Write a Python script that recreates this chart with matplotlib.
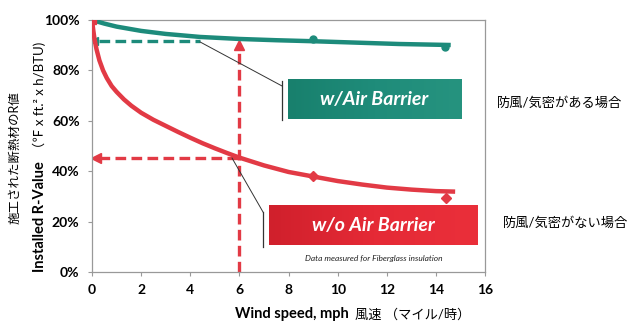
import numpy as np
import matplotlib.pyplot as plt
from matplotlib.ticker import FuncFormatter
from matplotlib.colors import LinearSegmentedColormap

plt.rcParams['font.family'] = ['Lato', 'Noto Sans CJK JP', 'DejaVu Sans']

# curve values (wind speed mph, R-value %)
wind_with = [0, 0.5, 1, 2, 3, 4.4, 6, 7.5, 9, 10.9, 12.5, 14.6]
r_with = [100, 98.6, 97.4, 95.7, 94.5, 93.3, 92.5, 92.0, 91.6, 91.0, 90.5, 90.1]
wind_without = [0, 0.05, 0.1, 0.18, 0.3, 0.45, 0.6, 0.8, 1.0, 1.3, 1.6, 2.0, 2.5, 3.0,
                3.5, 4.0, 4.5, 5.0, 5.5, 6.0, 7, 8, 9, 10, 11, 12, 13, 14, 14.78]
r_without = [100, 96, 92.5, 88.5, 84, 80, 77, 73.8, 71.5, 68.5, 66, 63.2, 60.4, 58,
             55.6, 53.3, 51.1, 49.1, 47.2, 45.4, 42.3, 39.7, 37.9, 36.1, 34.7, 33.5, 32.7, 32.1, 31.9]

# measured points
pts_with_x = [9, 14.35]
pts_with_y = [92.6, 89.2]
pts_without_x = [0, 9, 14.4]
pts_without_y = [100, 38.0, 29.4]

teal = '#1d8b7b'
red = '#e23a45'

fig = plt.figure(figsize=(6.4, 3.29), dpi=100)
ax = fig.add_axes([0.1438, 0.1733, 0.6142, 0.7657])

ax.plot(wind_with, r_with, color=teal, lw=3.2, solid_capstyle='butt', zorder=3)
ax.plot(wind_without, r_without, color=red, lw=3.2, solid_capstyle='butt',
        solid_joinstyle='round', zorder=3)
ax.plot(pts_with_x, pts_with_y, 'o', color=teal, ms=5, zorder=4)
ax.plot(pts_without_x[:1], pts_without_y[:1], 's', color=red, ms=6, zorder=4)
ax.plot(pts_without_x[1:], pts_without_y[1:], 'D', color=red, ms=5, zorder=4)

# dashed guide lines with arrows
dash = (0, (3.2, 1.6))
ax.plot([0.3, 4.4], [91.6, 91.6], color=teal, lw=2.4, linestyle=dash, zorder=2)
ax.plot([0.1], [91.6], marker='<', color=teal, ms=6, zorder=2)
ax.plot([6, 6], [0, 89], color=red, lw=2.4, linestyle=dash, zorder=2)
ax.plot([6], [90], marker='^', color=red, ms=7, zorder=2)
ax.plot([0.3, 6], [45.4, 45.4], color=red, lw=2.4, linestyle=dash, zorder=2)
ax.plot([0.15], [45.4], marker='<', color=red, ms=7, zorder=2)

# leader lines
ax.plot([4.4, 7.74], [91.3, 73.8], color='#333333', lw=0.7, zorder=5)
ax.plot([7.74, 7.74], [75.8, 60.3], color='#333333', lw=0.9, zorder=5)
ax.plot([5.7, 6.96], [45.2, 23.8], color='#333333', lw=0.7, zorder=5)
ax.plot([6.96, 6.96], [23.8, 9.9], color='#333333', lw=0.9, zorder=5)

# label boxes with a slight gradient
grad = np.linspace(0, 1, 100).reshape(1, -1)
cm_t = LinearSegmentedColormap.from_list('t', ['#18806d', '#1f8c7a', '#26937f'])
cm_r = LinearSegmentedColormap.from_list('r', ['#d0202c', '#e52a36', '#ea2f3a'])
ax.imshow(grad, cmap=cm_t, extent=[7.97, 15.04, 60.7, 76.2], aspect='auto', zorder=4)
ax.imshow(grad, cmap=cm_r, extent=[7.2, 15.7, 10.7, 26.2], aspect='auto', zorder=4)
ax.text(11.5, 68.4, 'w/Air Barrier', color='white', fontsize=14, fontweight='bold',
        fontstyle='italic', ha='center', va='center', zorder=6)
ax.text(11.45, 18.4, 'w/o Air Barrier', color='white', fontsize=14, fontweight='bold',
        fontstyle='italic', ha='center', va='center', zorder=6)
ax.text(11.45, 5.2, 'Data measured for Fiberglass insulation', fontsize=6,
        fontstyle='italic', ha='center', va='center', color='#222222')

ax.set_xlim(0, 16)
ax.set_ylim(0, 100)
ax.set_xticks(range(0, 17, 2))
ax.set_yticks(range(0, 101, 20))
ax.yaxis.set_major_formatter(FuncFormatter(lambda v, p: f'{int(v)}%'))
for lab in ax.get_xticklabels() + ax.get_yticklabels():
    lab.set_fontweight('bold')
    lab.set_fontsize(10)
ax.tick_params(axis='both', length=3, width=0.8, color='#999999', pad=6)
for s in ax.spines.values():
    s.set_color('#999999')
    s.set_linewidth(0.9)

# axis titles
fig.text(0.367, 0.045, 'Wind speed, mph', fontsize=10.5, fontweight='bold', ha='left', va='center')
fig.text(0.555, 0.045, '風速 （マイル/時）', fontsize=9.5, ha='left', va='center')
fig.text(0.062, 0.173, 'Installed R-Value', fontsize=10.5, fontweight='bold',
         rotation=90, ha='center', va='bottom')
fig.text(0.062, 0.53, '（℉ x ft.² x h/BTU)', fontsize=9.5,
         rotation=90, ha='center', va='bottom')
fig.text(0.022, 0.52, '施工された断熱材のR値', fontsize=9, rotation=90, ha='center', va='center')

fig.text(0.875, 0.687, '防風/気密がある場合', fontsize=9.5, ha='center', va='center')
fig.text(0.883, 0.322, '防風/気密がない場合', fontsize=9.5, ha='center', va='center')

fig.savefig('out.png', dpi=100)
